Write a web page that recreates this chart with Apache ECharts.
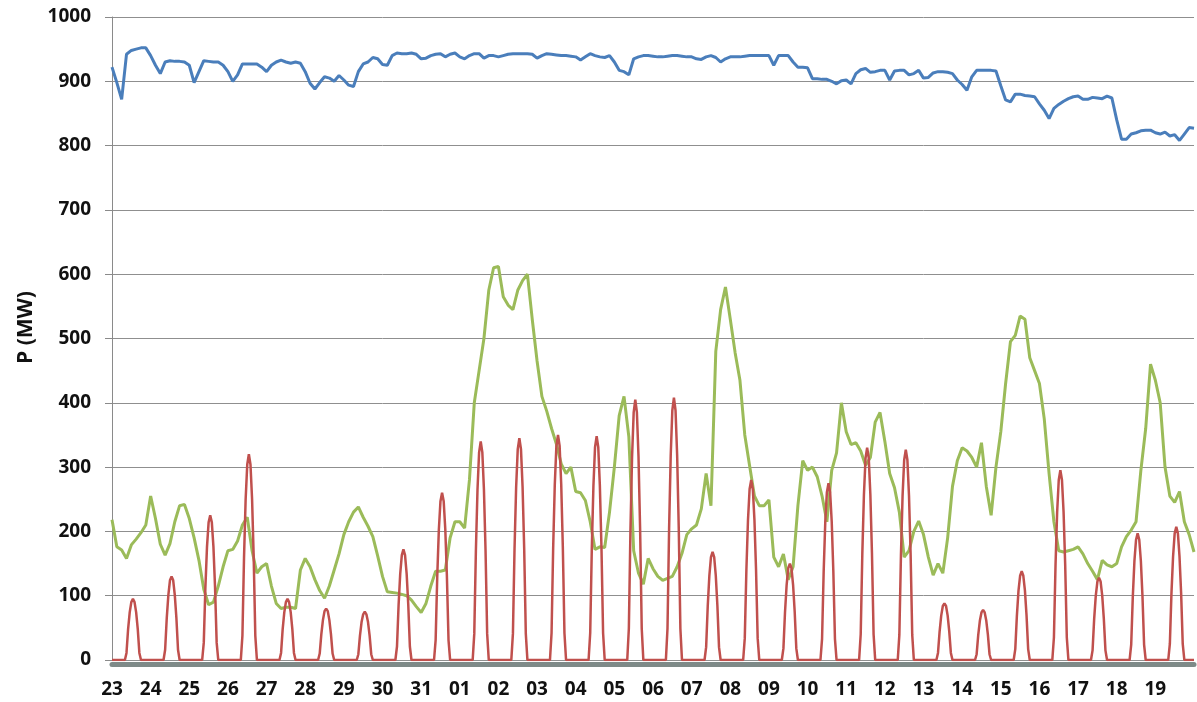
<!DOCTYPE html>
<html>
<head>
<meta charset="utf-8">
<script src="https://cdn.jsdelivr.net/npm/echarts@6/dist/echarts.min.js"></script>
<style>
html,body{margin:0;padding:0;background:#fff;}
#c{width:1197px;height:702px;}
</style>
</head>
<body>
<div id="c"></div>
<script>
// Day labels (one per day, label at start of day)
var dayLabels = ['23','24','25','26','27','28','29','30','31','01','02','03','04','05','06','07','08','09','10','11','12','13','14','15','16','17','18','19'];

// Samples every 3 hours (8 per day)
var loadMW = [
922,898,872,942,948,950,952,952,940,925,
912,930,932,931,931,930,925,898,915,932,
931,930,930,925,915,900,910,927,927,927,
927,922,915,925,930,933,930,928,930,928,
915,897,888,898,907,905,900,909,902,894,
892,915,927,930,937,935,926,925,940,944,
943,943,944,942,935,936,940,942,943,938,
942,944,938,935,940,943,943,936,940,940,
938,940,942,943,943,943,943,942,936,940,
943,942,941,940,940,939,938,933,938,943,
940,938,937,940,930,917,915,910,935,938,
940,940,939,938,938,939,940,940,939,938,
938,935,934,938,940,937,930,935,938,938,
938,939,940,940,940,940,940,925,940,940,
940,930,922,922,921,904,904,903,903,900,
896,901,902,896,912,918,920,914,915,917,
917,902,916,917,917,910,912,917,905,906,
913,915,915,914,912,902,895,886,907,917,
917,917,917,916,893,871,868,880,880,878,
877,876,865,855,842,858,864,869,873,876,
877,872,872,875,874,873,877,874,840,810,
810,818,820,823,824,824,820,818,821,815,
817,808,818,828,827
];

var windMW = [
218,176,171,158,179,188,198,210,255,220,
180,163,181,215,240,242,220,190,155,110,
86,90,115,145,170,172,185,210,222,170,
135,145,150,115,88,80,82,82,80,140,
158,145,125,108,96,115,140,165,195,215,
230,238,222,208,192,162,130,106,105,104,
102,100,93,83,74,88,115,138,138,140,
190,215,215,205,280,400,450,500,575,610,
612,565,552,545,575,590,600,530,465,410,
387,360,336,305,290,300,262,260,248,215,
172,176,175,230,300,380,410,347,170,135,
118,158,142,130,124,127,130,145,166,195,
204,210,235,290,240,480,545,580,530,478,
435,350,302,255,240,240,249,160,145,165,
125,145,240,310,295,300,285,255,215,295,
322,400,355,335,338,325,303,315,370,385,
340,290,268,230,160,170,200,216,195,160,
132,150,135,190,270,310,330,325,315,300,
338,270,225,300,355,430,495,505,535,530,
470,450,430,375,290,215,170,168,170,172,
176,165,150,138,125,155,148,145,150,176,
192,202,215,295,360,460,435,400,300,255,
245,262,215,195,168
];

// Solar: hourly values from 08:00 to 18:00 of each day (zero at night)
var solarHours = [8,9,10,11,12,13,14,15,16,17,18];
var solarMW = [
[0,11,48,74,90,95,90,74,48,11,0],
[0,16,65,101,124,130,124,101,65,16,0],
[0,27,113,176,214,225,214,176,113,27,0],
[0,38,160,250,304,320,304,250,160,38,0],
[0,11,48,74,90,95,90,74,48,11,0],
[0,10,40,62,76,80,76,62,40,10,0],
[0,9,38,59,71,75,71,59,38,9,0],
[0,21,86,134,163,172,163,134,86,21,0],
[0,31,130,203,247,260,247,203,130,31,0],
[0,41,170,265,323,340,323,265,170,41,0],
[0,41,173,269,328,345,328,269,173,41,0],
[0,42,175,273,333,350,333,273,175,42,0],
[0,42,174,271,331,348,331,271,174,42,0],
[0,49,203,316,385,405,385,316,203,49,0],
[0,49,204,318,388,408,388,318,204,49,0],
[0,20,84,131,160,168,160,131,84,20,0],
[0,34,140,218,266,280,266,218,140,34,0],
[0,18,75,117,143,150,143,117,75,18,0],
[0,33,138,215,261,275,261,215,138,33,0],
[0,40,165,257,314,330,314,257,165,40,0],
[0,39,164,255,311,327,311,255,164,39,0],
[0,11,44,69,84,88,84,69,44,11,0],
[0,9,39,61,74,78,74,61,39,9,0],
[0,17,69,108,131,138,131,108,69,17,0],
[0,35,148,230,280,295,280,230,148,35,0],
[0,15,64,100,122,128,122,100,64,15,0],
[0,24,99,154,187,197,187,154,99,24,0],
[0,25,104,161,197,207,197,161,104,25,0]
];

var loadData = loadMW.map(function(v,k){return [k/8, v];});
var windData = windMW.map(function(v,k){return [k/8, v];});
var solarData = [[0,0]];
solarMW.forEach(function(day, d){
  day.forEach(function(v, i){ solarData.push([d + solarHours[i]/24, v]); });
});
solarData.push([28,0]);

var FONT = 'Open Sans';
var chart = echarts.init(document.getElementById('c'), null, {renderer:'canvas'});
chart.setOption({
  animation:false,
  backgroundColor:'#ffffff',
  grid:{left:112, right:0, top:17, bottom:42, containLabel:false},
  xAxis:{
    type:'value', min:0, max:28, interval:1,
    offset:4,
    axisLine:{show:true, onZero:false, lineStyle:{color:'#7e8a88', width:5}},
    axisTick:{show:false},
    splitLine:{show:false},
    axisLabel:{
      margin:16,
      color:'#111', fontFamily:FONT, fontWeight:'bold', fontSize:19,
      formatter:function(v){ return dayLabels[v] !== undefined ? dayLabels[v] : ''; }
    }
  },
  yAxis:{
    type:'value', min:0, max:1000, interval:100,
    name:'P (MW)', nameLocation:'middle', nameGap:74,
    nameTextStyle:{color:'#111', fontFamily:FONT, fontWeight:'bold', fontSize:21, padding:[0,0,0,22]},
    axisLine:{show:true, lineStyle:{color:'#8a8a8a', width:1}},
    axisTick:{show:true, length:7, lineStyle:{color:'#8a8a8a'}},
    splitLine:{show:true, lineStyle:{color:'#8f8f8f', width:1}},
    axisLabel:{margin:21, color:'#111', fontFamily:FONT, fontWeight:'bold', fontSize:19,
      formatter:function(v){ return String(v); }}
  },
  series:[
    {type:'line', data:loadData, showSymbol:false, symbol:'none', lineStyle:{color:'#4a7ebb', width:3}, z:3},
    {type:'line', data:windData, showSymbol:false, symbol:'none', lineStyle:{color:'#9bbb59', width:3}, z:4},
    {type:'line', data:solarData, showSymbol:false, symbol:'none', lineStyle:{color:'#c0504d', width:2.5}, z:5}
  ]
});
</script>
</body>
</html>
